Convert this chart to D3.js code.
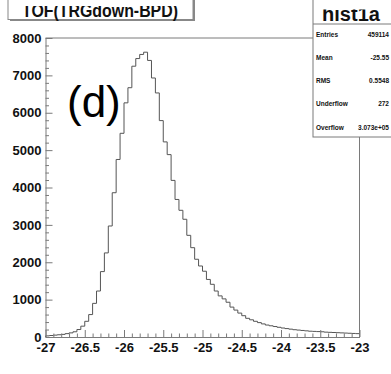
<!DOCTYPE html>
<html>
<head>
<meta charset="utf-8">
<script src="https://cdn.jsdelivr.net/npm/d3@7"></script>
<style>
  html, body { margin: 0; padding: 0; background: #fff; }
  svg { display: block; }
  text { font-family: "Liberation Sans", Arial, sans-serif; }
</style>
</head>
<body>
<svg id="chart" width="391" height="374"></svg>
<script>
// ---------------- data ----------------
const binLow = -27, binHigh = -23, binWidth = 0.05;
const counts = [
  30, 40, 50, 60, 70, 90, 110, 140, 200, 290,
  420, 600, 900, 1230, 1750, 2250, 2970, 3860, 4750, 5450,
  6265, 6670, 7245, 7450, 7560, 7620, 7400, 6930, 6530, 5790,
  5220, 4880, 4190, 3680, 3390, 3150, 2720, 2390, 2080, 1900,
  1760, 1540, 1410, 1230, 1100, 1020, 930, 800, 720, 640,
  570, 500, 460, 420, 385, 350, 320, 300, 280, 260,
  240, 225, 210, 195, 185, 175, 165, 155, 150, 145,
  140, 130, 125, 120, 115, 110, 105, 100, 95, 90
];
const xMajorTicks = [-27, -26.5, -26, -25.5, -25, -24.5, -24, -23.5, -23];
const yMajorTicks = [0, 1000, 2000, 3000, 4000, 5000, 6000, 7000, 8000];
const titleText = "TOF(TRGdown-BPD)";
const panelLabel = "(d)";
const statsTitle = "hist1a";
const statsNames = ["Entries", "Mean", "RMS", "Underflow", "Overflow"];
const statsValues = ["459114", "-25.55", "0.5548", "272", "3.073e+05"];

// ---------------- layout ----------------
const svg = d3.select("#chart");
const frameL = 45.5, frameR = 359.5, frameT = 38, frameB = 337;
const x = d3.scaleLinear().domain([binLow, binHigh]).range([frameL, frameR]);
const y = d3.scaleLinear().domain([0, 8000]).range([frameB, frameT]);
const frameColor = "#7a7a7a";

// frame top/right
svg.append("line").attr("x1", frameL).attr("x2", frameR).attr("y1", frameT).attr("y2", frameT)
  .attr("stroke", frameColor).attr("stroke-width", 1);
svg.append("line").attr("x1", frameR).attr("x2", frameR).attr("y1", frameT).attr("y2", frameB)
  .attr("stroke", frameColor).attr("stroke-width", 1);

// histogram
const bins = counts.map((c, i) => ({ lo: binLow + i * binWidth, hi: binLow + (i + 1) * binWidth, c }));
let pathD = `M${x(binLow)},${y(0)}`;
bins.forEach(b => { pathD += `L${x(b.lo)},${y(b.c)}L${x(b.hi)},${y(b.c)}`; });
svg.append("path").attr("d", pathD).attr("fill", "none")
  .attr("stroke", "#555").attr("stroke-width", 1);

// x axis
const xMinor = d3.range(0, 41).map(i => binLow + i * 0.1).filter(v => !xMajorTicks.some(m => Math.abs(m - v) < 1e-6));
const gx = svg.append("g").attr("transform", `translate(0,${frameB})`);
gx.call(d3.axisBottom(x).tickValues(xMajorTicks).tickSize(-7).tickSizeOuter(0).tickPadding(5.8)
  .tickFormat(d => String(+d.toFixed(1))));
const gxm = svg.append("g").attr("transform", `translate(0,${frameB})`);
gxm.call(d3.axisBottom(x).tickValues(xMinor).tickSize(-3.5).tickSizeOuter(0).tickFormat(""));
gxm.select(".domain").remove();

// y axis
const yMinor = d3.range(0, 41).map(i => i * 200).filter(v => v % 1000 !== 0);
const gy = svg.append("g").attr("transform", `translate(${frameL},0)`);
gy.call(d3.axisLeft(y).tickValues(yMajorTicks).tickSize(-7).tickSizeOuter(0).tickPadding(4)
  .tickFormat(d => String(d)));
const gym = svg.append("g").attr("transform", `translate(${frameL},0)`);
gym.call(d3.axisLeft(y).tickValues(yMinor).tickSize(-3.5).tickSizeOuter(0).tickFormat(""));
gym.select(".domain").remove();

svg.selectAll(".domain").attr("stroke", frameColor);
svg.selectAll(".tick line").attr("stroke", frameColor);
svg.selectAll(".tick text").attr("font-size", 13).attr("font-weight", "bold")
  .attr("fill", "#111").attr("font-family", "'Liberation Sans', Arial, sans-serif");

// title box (top clipped)
svg.append("clipPath").attr("id", "topclip").append("rect")
  .attr("x", 0).attr("y", 6).attr("width", 391).attr("height", 400);
svg.append("rect").attr("x", 10).attr("y", -10).attr("width", 185).attr("height", 31)
  .attr("fill", "#888");
svg.append("rect").attr("x", 8).attr("y", -10).attr("width", 185).attr("height", 29.5)
  .attr("fill", "#fff").attr("stroke", "#888").attr("stroke-width", 1);
svg.append("text").attr("x", 100).attr("y", 16.5).attr("text-anchor", "middle")
  .attr("font-size", 18.5).attr("font-weight", "bold").attr("fill", "#111")
  .attr("clip-path", "url(#topclip)")
  .attr("textLength", 156).attr("lengthAdjust", "spacingAndGlyphs")
  .text(titleText);

// panel label
svg.append("text").attr("x", 67).attr("y", 117).attr("font-size", 44)
  .attr("fill", "#000").text(panelLabel);

// stats box
const sbX = 313, sbB = 137;
svg.append("rect").attr("x", sbX).attr("y", -5).attr("width", 100).attr("height", sbB + 5)
  .attr("fill", "#fff").attr("stroke", frameColor).attr("stroke-width", 1);
svg.append("line").attr("x1", sbX).attr("x2", 400).attr("y1", 24).attr("y2", 24)
  .attr("stroke", frameColor).attr("stroke-width", 1);
svg.append("clipPath").attr("id", "statclip").append("rect")
  .attr("x", 300).attr("y", 9.5).attr("width", 100).attr("height", 20);
svg.append("text").attr("x", 351).attr("y", 21).attr("text-anchor", "middle")
  .attr("font-size", 20).attr("font-weight", "bold").attr("fill", "#111")
  .attr("clip-path", "url(#statclip)").text(statsTitle);
const rowY = d3.scaleLinear().domain([0, 4]).range([36.5, 129.5]);
statsNames.forEach((n, i) => {
  svg.append("text").attr("x", 316).attr("y", rowY(i)).attr("font-size", 6.5)
    .attr("font-weight", "bold").attr("fill", "#111").text(n);
  svg.append("text").attr("x", 389).attr("y", rowY(i)).attr("font-size", 6.5)
    .attr("font-weight", "bold").attr("fill", "#111").attr("text-anchor", "end").text(statsValues[i]);
});
</script>
</body>
</html>
